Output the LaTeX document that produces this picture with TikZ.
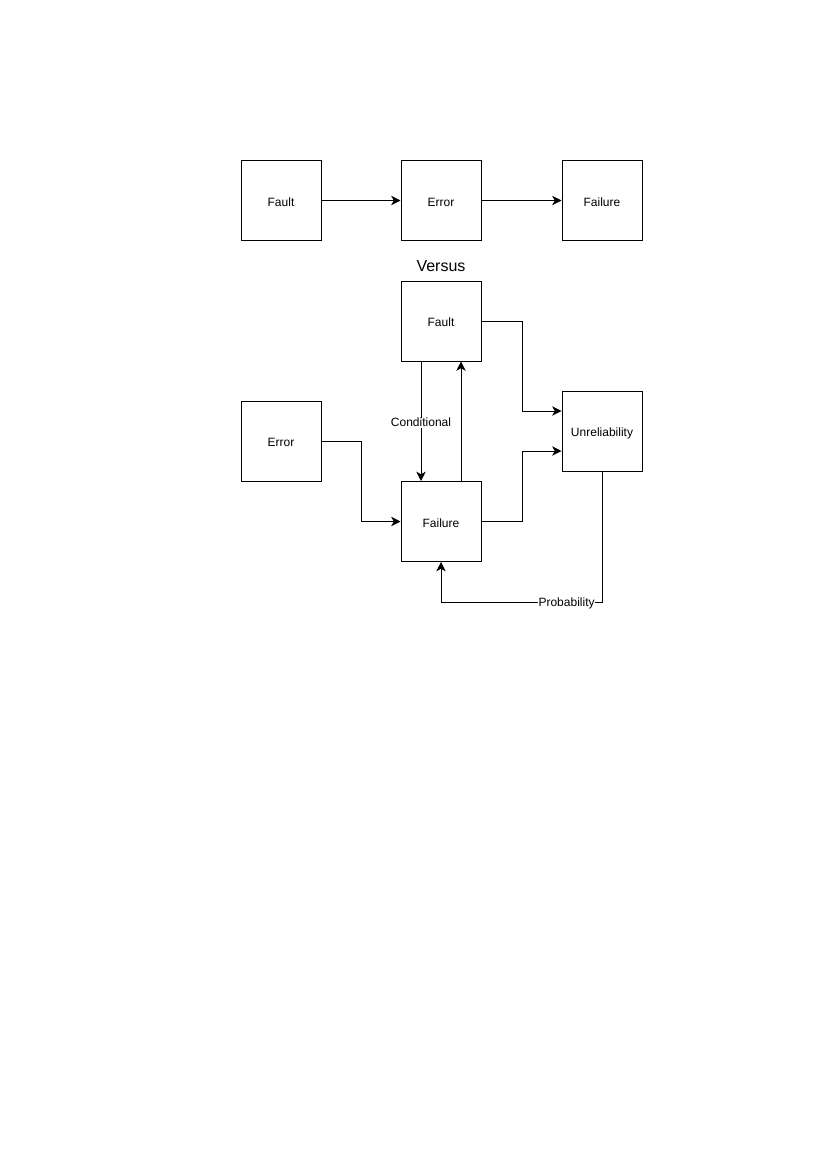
\documentclass[tikz,border=0pt]{standalone}
\usepackage{fontspec}
\setmainfont{Liberation Sans}
\usetikzlibrary{arrows.meta,calc}
\begin{document}
\begin{tikzpicture}[x=0.75pt,y=-0.75pt,
  box/.style={draw,line width=0.75pt,minimum width=60pt,minimum height=60pt,inner sep=0pt,
    text height=8.6pt,text depth=0pt,font=\fontsize{9pt}{11pt}\selectfont},
  arr/.style={line width=0.75pt,-{Stealth[length=7pt,width=7pt,inset=2pt]}},
  lbl/.style={fill=white,inner sep=0.5pt,yshift=-1pt,font=\fontsize{9pt}{11pt}\selectfont}]
\useasboundingbox (0,0) rectangle (830,1174);
% top row
\node[box] (fa1) at (281,200.5) {Fault};
\node[box] (er1) at (441,200.5) {Error};
\node[box] (fl1) at (602,200.5) {Failure};
\draw[arr] (fa1) -- (er1);
\draw[arr] (er1) -- (fl1);
\node[font=\fontsize{12pt}{14pt}\selectfont] (vs) at (441,266) {Versus};
% lower
\node[box] (fa2) at (441,321) {Fault};
\node[box] (er2) at (281,441) {Error};
\node[box] (fl2) at (441,521.5) {Failure};
\node[box] (un) at (602,431) {Unreliability};
\draw[arr] (fa2.east) -- ++(41,0) |- ($(un.west)+(0,-20)$);
\draw[arr] (fl2.east) -- ++(41,0) |- ($(un.west)+(0,20)$);
\draw[arr] (er2.east) -- ++(40,0) |- (fl2.west);
\draw[arr] ([xshift=-15pt]fa2.south) -- node[lbl,pos=0.5] (cond) {Conditional} ([xshift=-15pt]fl2.north);
\draw[arr] ([xshift=15pt]fl2.north) -- ([xshift=15pt]fa2.south);
\draw[arr] (un.south) -- ++(0,130.5) coordinate (pb) -- node[lbl,pos=0.22] (prob) {Probability} (pb -| fl2.south) -- (fl2.south);
\end{tikzpicture}
\end{document}
